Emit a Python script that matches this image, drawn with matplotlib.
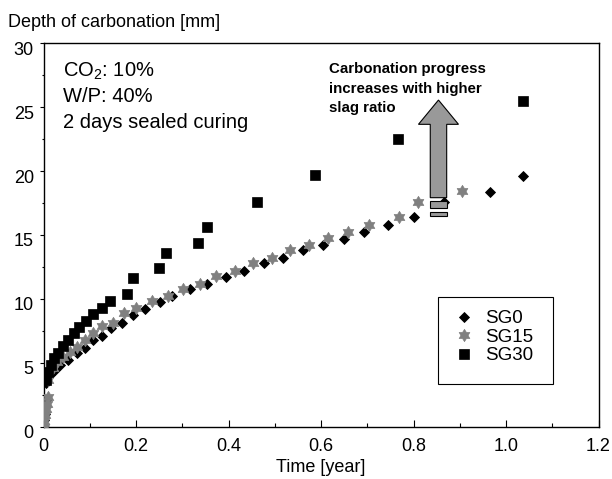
import matplotlib
matplotlib.use("Agg")
import matplotlib.pyplot as plt
from matplotlib.path import Path
from matplotlib.patches import FancyArrow, Rectangle
from matplotlib.ticker import MultipleLocator, FixedLocator
import matplotlib.transforms as mtransforms

plt.rcParams['font.family'] = ['Liberation Sans', 'DejaVu Sans']
plt.rcParams['mathtext.fontset'] = 'custom'
plt.rcParams['mathtext.rm'] = 'Liberation Sans'
plt.rcParams['mathtext.it'] = 'Liberation Sans'

# ---- data (time in years, depth in mm) ----
sg0_t = [0.0, 0.002, 0.004, 0.006, 0.008, 0.006, 0.014, 0.025, 0.036, 0.054, 0.072,
         0.090, 0.108, 0.126, 0.147, 0.169, 0.194, 0.219, 0.252, 0.278, 0.316,
         0.354, 0.394, 0.434, 0.477, 0.518, 0.562, 0.604, 0.650, 0.693, 0.744,
         0.801, 0.866, 0.965, 1.037]
sg0_d = [0.0, 0.5, 1.0, 1.6, 2.2, 3.4, 4.05, 4.4, 4.83, 5.2, 5.74,
         6.13, 6.8, 7.1, 7.75, 8.14, 8.72, 9.2, 9.75, 10.2, 10.8,
         11.2, 11.75, 12.2, 12.8, 13.2, 13.8, 14.2, 14.7, 15.2, 15.8,
         16.4, 17.6, 18.4, 19.6]

sg15_t = [0.0, 0.002, 0.004, 0.006, 0.008, 0.010, 0.010, 0.020, 0.029, 0.043, 0.057,
          0.072, 0.090, 0.108, 0.126, 0.151, 0.173, 0.201, 0.234, 0.270, 0.301,
          0.338, 0.374, 0.414, 0.452, 0.493, 0.534, 0.574, 0.616, 0.659, 0.704,
          0.769, 0.810, 0.904]
sg15_d = [0.0, 0.45, 0.9, 1.35, 1.8, 2.3, 3.65, 4.57, 5.09, 5.48, 5.87,
          6.26, 6.8, 7.3, 7.88, 8.14, 8.87, 9.26, 9.8, 10.2, 10.8,
          11.2, 11.8, 12.2, 12.8, 13.2, 13.8, 14.2, 14.8, 15.26, 15.8,
          16.4, 17.6, 18.44]

sg30_t = [0.005, 0.010, 0.016, 0.023, 0.032, 0.043, 0.054, 0.066, 0.077, 0.092,
          0.108, 0.126, 0.144, 0.180, 0.193, 0.249, 0.264, 0.333, 0.353, 0.461,
          0.586, 0.766, 1.037]
sg30_d = [3.65, 4.3, 4.8, 5.35, 5.8, 6.3, 6.8, 7.3, 7.8, 8.3,
          8.8, 9.26, 9.8, 10.4, 11.6, 12.4, 13.6, 14.4, 15.6, 17.6,
          19.7, 22.5, 25.5]

series_names = ['SG0', 'SG15', 'SG30']

W, H = 612, 479
fig = plt.figure(figsize=(W / 100, H / 100), dpi=100)
ax = fig.add_axes([43.5 / W, 1 - 426.7 / H, 555.0 / W, 383.4 / H])

hexagram = Path.unit_regular_star(6, innerCircle=0.6)

ax.plot(sg0_t, sg0_d, linestyle='none', marker='D', markersize=5.6,
        color='black', markeredgecolor='black', markeredgewidth=0.6,
        label=series_names[0], zorder=3)
ax.plot(sg15_t, sg15_d, linestyle='none', marker=hexagram, markersize=9,
        color='#808080', markeredgecolor='#808080', markeredgewidth=0.4,
        label=series_names[1], zorder=3)
ax.plot(sg30_t, sg30_d, linestyle='none', marker='s', markersize=7.6,
        color='black', markeredgecolor='black', markeredgewidth=0.5,
        label=series_names[2], zorder=3)

ax.set_xlim(0, 1.2)
ax.set_ylim(0, 30)
ax.xaxis.set_major_locator(FixedLocator([0, 0.2, 0.4, 0.6, 0.8, 1.0, 1.2]))
ax.xaxis.set_minor_locator(MultipleLocator(0.1))
ax.yaxis.set_major_locator(MultipleLocator(5))
ax.yaxis.set_minor_locator(MultipleLocator(2.5))
ax.set_xticklabels(['0', '0.2', '0.4', '0.6', '0.8', '1.0', '1.2'])

ax.tick_params(axis='x', which='major', direction='in', length=5, width=0.8,
               labelsize=13, pad=8)
ax.tick_params(axis='x', which='minor', direction='in', length=3, width=0.8)
ax.tick_params(axis='y', which='major', direction='out', length=3, width=0.8,
               labelsize=13, pad=4)
ax.tick_params(axis='y', which='minor', direction='out', length=1.5, width=0.8)
for sp in ax.spines.values():
    sp.set_linewidth(1.0)

off = mtransforms.ScaledTranslation(0, -5 / 100, fig.dpi_scale_trans)
for lab in ax.get_yticklabels():
    lab.set_transform(lab.get_transform() + off)

# axis titles
fig.text(8.3 / W, 1 - 27.3 / H, 'Depth of carbonation [mm]', fontsize=13,
         ha='left', va='baseline')
fig.text(321 / W, 1 - 472 / H, 'Time [year]', fontsize=13, ha='center',
         va='baseline')

# conditions text
cond_lines = ['CO$_2$: 10%', 'W/P: 40%', '2 days sealed curing']
cond_base = [76.7, 101.7, 127.7]
for s, yb in zip(cond_lines, cond_base):
    fig.text(63 / W, 1 - yb / H, s, fontsize=14.5, ha='left', va='baseline')

# bold note
note_lines = ['Carbonation progress', 'increases with higher', 'slag ratio']
note_base = [72.7, 93.0, 112.3]
for s, yb in zip(note_lines, note_base):
    fig.text(329.3 / W, 1 - yb / H, s, fontsize=10.8, fontweight='bold',
             ha='left', va='baseline')

# block arrow
arr = FancyArrow(0.854, 17.92, 0, 25.56 - 17.92, width=0.0355,
                 head_width=0.0865, head_length=1.9, length_includes_head=True,
                 facecolor='#999999', edgecolor='black', linewidth=0.8, zorder=5)
ax.add_patch(arr)
for y0, h in [(17.09, 0.57), (16.49, 0.30)]:
    ax.add_patch(Rectangle((0.854 - 0.0355 / 2, y0), 0.0355, h,
                           facecolor='#999999', edgecolor='black',
                           linewidth=0.8, zorder=5))

# legend
leg = ax.legend(loc='upper left', bbox_to_anchor=(0.737, 0.304), frameon=False,
                fontsize=13.5, borderpad=0, borderaxespad=0, handlelength=1.2,
                handletextpad=0.55, labelspacing=0.07, numpoints=1)
ax.add_patch(Rectangle((0.711, 0.111), 0.2067, 0.228, transform=ax.transAxes,
                       facecolor='none', edgecolor='black', linewidth=0.8,
                       zorder=4))

fig.savefig('out.png', dpi=100)
